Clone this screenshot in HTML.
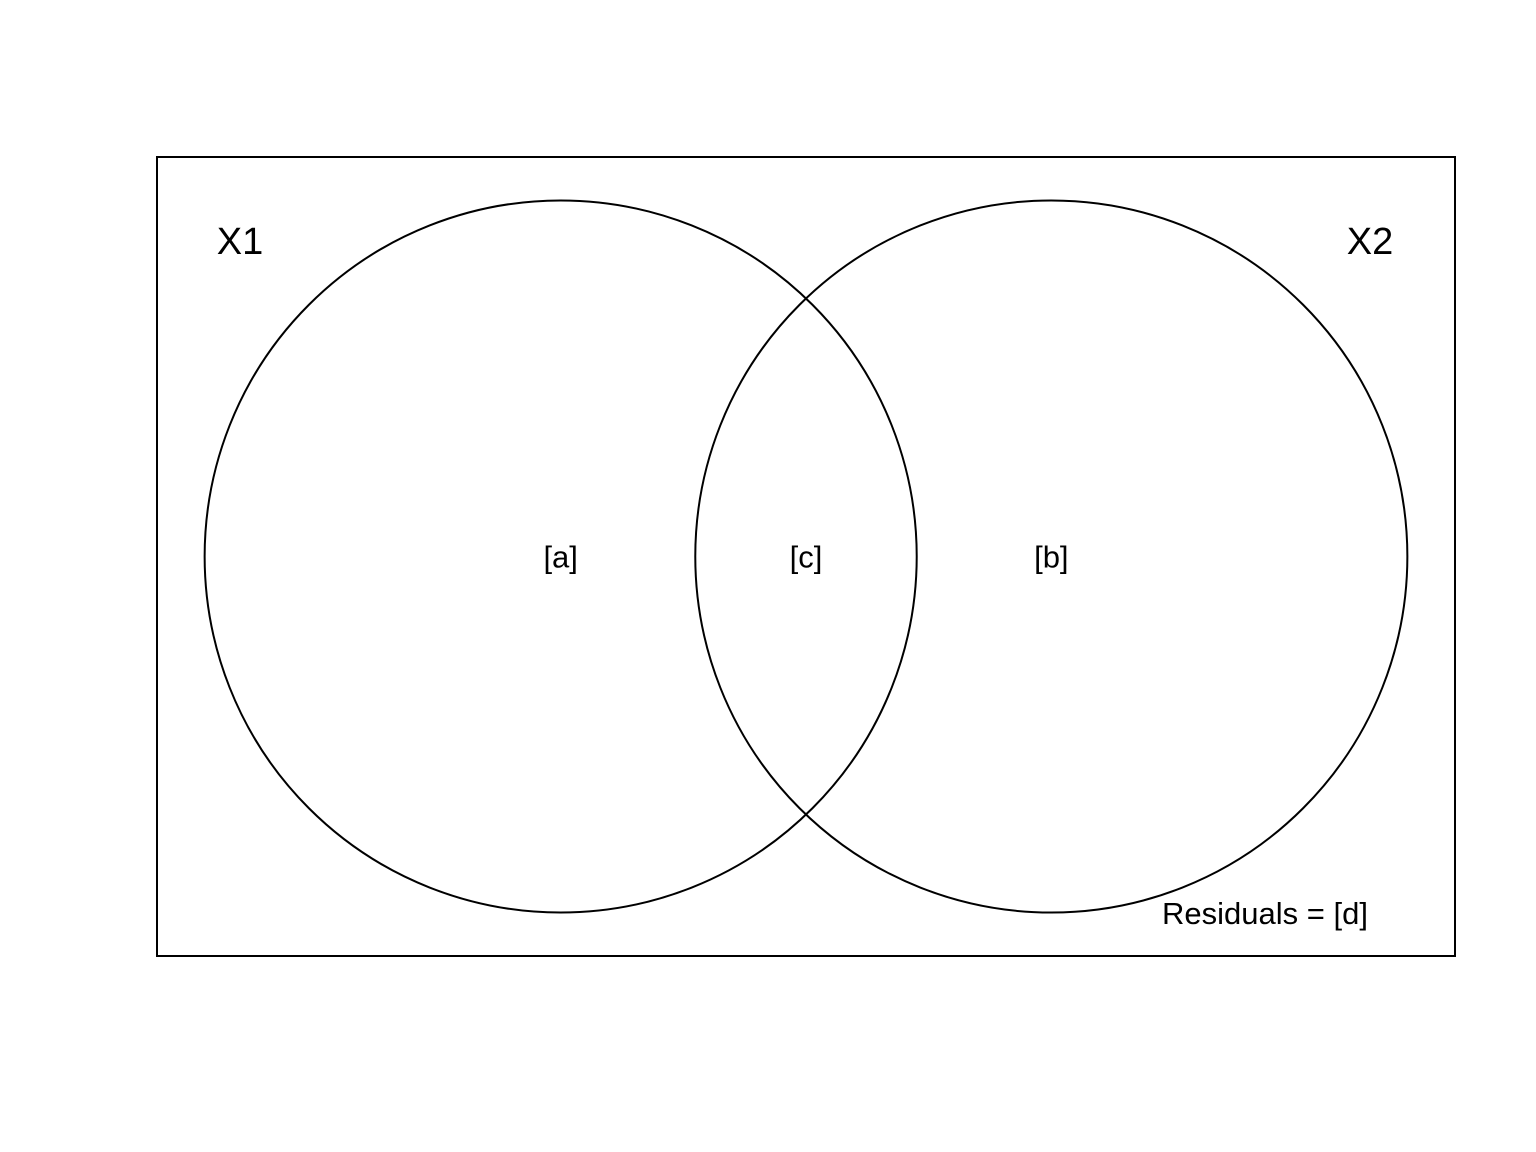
<!DOCTYPE html>
<html>
<head>
<meta charset="utf-8">
<style>
  html, body { margin: 0; padding: 0; background: #fff; }
  svg { display: block; }
  text { font-family: "Liberation Sans", Arial, sans-serif; fill: #000; }
</style>
</head>
<body>
<svg id="chart" width="1536" height="1152" viewBox="0 0 1536 1152" xmlns="http://www.w3.org/2000/svg">
  <rect x="157" y="157" width="1298" height="799" fill="none" stroke="#000" stroke-width="2"/>
  <g id="circles"></g>
  <g id="labels"></g>
</svg>
<script>
// Venn sets (data units: x in [0,1] across frame, radius in same units)
const setNames = ["X1", "X2"];
const setCentersX = [0.311, 0.689];
const setCentersY = [0.5, 0.5];
const setRadii = [0.2743, 0.2743];
const regionLabels = ["[a]", "[c]", "[b]"];
const regionPositions = [0.311, 0.5, 0.689];
const residualLabel = "Residuals = [d]";

const frame = { x: 157, y: 157, w: 1298, h: 799 };
const sx = v => frame.x + v * frame.w;
const sy = v => frame.y + v * frame.h;
const sr = v => v * frame.w;

const NS = "http://www.w3.org/2000/svg";
const cg = document.getElementById("circles");
const lg = document.getElementById("labels");

setNames.forEach((name, i) => {
  const c = document.createElementNS(NS, "circle");
  c.setAttribute("cx", sx(setCentersX[i]));
  c.setAttribute("cy", sy(setCentersY[i]));
  c.setAttribute("r", sr(setRadii[i]));
  c.setAttribute("fill", "none");
  c.setAttribute("stroke", "#000");
  c.setAttribute("stroke-width", "2");
  
  
  cg.appendChild(c);
});

const setLabelX = [240, 1370];
setNames.forEach((name, i) => {
  const t = document.createElementNS(NS, "text");
  t.setAttribute("x", setLabelX[i]);
  t.setAttribute("y", 254);
  t.setAttribute("text-anchor", "middle");
  t.setAttribute("font-size", "38");
  t.textContent = name;
  
  
  lg.appendChild(t);
});

regionLabels.forEach((lab, i) => {
  const t = document.createElementNS(NS, "text");
  t.setAttribute("x", sx(regionPositions[i]));
  t.setAttribute("y", sy(0.5) + 11);
  t.setAttribute("text-anchor", "middle");
  t.setAttribute("font-size", "31");
  t.textContent = lab;
  
  
  lg.appendChild(t);
});

const r = document.createElementNS(NS, "text");
r.setAttribute("x", 1265);
r.setAttribute("y", 924);
r.setAttribute("text-anchor", "middle");
r.setAttribute("font-size", "31");
r.textContent = residualLabel;


lg.appendChild(r);
</script>
</body>
</html>
